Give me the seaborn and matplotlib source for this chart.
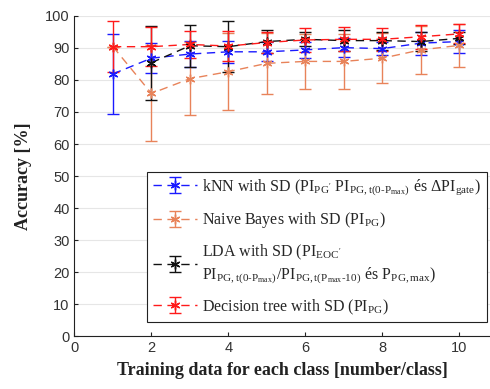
import numpy as np
import pandas as pd
import matplotlib
matplotlib.use("Agg")
import matplotlib.pyplot as plt
import seaborn as sns

x = [1, 2, 3, 4, 5, 6, 7, 8, 9, 10]
knn_mean = [81.9, 86.8, 88.1, 88.8, 88.8, 89.4, 90.1, 89.8, 91.5, 92.0]
knn_sd = [12.4, 4.6, 4.0, 3.5, 3.0, 2.5, 3.0, 2.0, 3.6, 3.5]
nb_mean = [90.4, 75.8, 80.4, 82.6, 85.2, 85.8, 85.8, 86.8, 89.4, 90.8]
nb_sd = [0.0, 15.0, 11.4, 12.0, 9.6, 8.6, 8.6, 7.8, 7.5, 6.6]
lda_mean = [np.nan, 85.4, 90.7, 90.4, 92.0, 92.7, 92.3, 92.3, 92.0, 93.0]
lda_sd = [np.nan, 11.6, 6.5, 8.0, 3.5, 2.2, 3.2, 2.8, 3.0, 1.9]
dt_mean = [90.4, 90.4, 91.1, 90.6, 91.7, 92.5, 92.7, 92.7, 93.5, 94.4]
dt_sd = [8.0, 6.0, 4.2, 4.7, 3.3, 3.7, 3.7, 3.5, 3.7, 3.0]

labels = [
    r"kNN with SD (PI$_{\mathregular{PG'}}$ PI$_{\mathregular{PG,t(0\text{-}P}_{\mathregular{max}}\mathregular{)}}$ és ΔPI$_{\mathregular{gate}}$)",
    r"Naive Bayes with SD (PI$_{\mathregular{PG}}$)",
    "LDA with SD (PI$_{\\mathregular{EOC'}}$\n"
    r"PI$_{\mathregular{PG,t(0\text{-}P}_{\mathregular{max}}\mathregular{)}}$/PI$_{\mathregular{PG,t(P}_{\mathregular{max}}\mathregular{\text{-}10)}}$ és P$_{\mathregular{PG,max}}$)",
    r"Decision tree with SD (PI$_{\mathregular{PG}}$)",
]
colors = ["#1a1aff", "#e8835a", "#111111", "#ff1a1a"]

sns.set_style("white")
plt.rcParams["mathtext.fontset"] = "stix"

fig = plt.figure(figsize=(4.9, 3.89), dpi=100)
ax = fig.add_axes([0.152, 0.136, 0.848, 0.823])

series = [(knn_mean, knn_sd), (nb_mean, nb_sd), (lda_mean, lda_sd), (dt_mean, dt_sd)]
for (m, s), c, lab in zip(series, colors, labels):
    df = pd.DataFrame({"x": x, "y": m})
    sns.lineplot(data=df, x="x", y="y", ax=ax, color=c, linestyle=(0, (6, 4)),
                 linewidth=1.0, legend=False)
    ax.errorbar(x, m, yerr=s, fmt="none", ecolor=c, elinewidth=1.0, capsize=4,
                capthick=1.0)

handles = []
for (m, s), c, lab in zip(series, colors, labels):
    h = ax.errorbar([np.nan], [np.nan], yerr=[1], color=c, linestyle=(0, (6, 4)),
                    linewidth=1.0, marker=(6, 2, 0), markersize=7, capsize=4,
                    label=lab)
    handles.append(h)

for (m, s), c in zip(series, colors):
    ax.plot(x, m, linestyle="none", marker=(6, 2, 0), markersize=7, color=c,
            markeredgewidth=1.0)

ax.set_xlim(0, 10.8)
ax.set_ylim(0, 100)
ax.set_xticks([0, 2, 4, 6, 8, 10])
ax.set_yticks(range(0, 101, 10))
ax.yaxis.grid(True, color="#e6e6e6", linewidth=0.8)
ax.set_axisbelow(True)
for sp in ["top", "right"]:
    ax.spines[sp].set_visible(False)
for sp in ["left", "bottom"]:
    ax.spines[sp].set_color("#222222")
    ax.spines[sp].set_linewidth(0.8)
ax.tick_params(axis="both", direction="in", length=3, labelsize=10.5,
               labelcolor="#333333", colors="#222222", left=True, bottom=True)
for t in ax.get_xticklabels() + ax.get_yticklabels():
    t.set_fontfamily("Liberation Sans")
ax.set_xlabel("Training data for each class [number/class]", fontsize=13,
              fontweight="bold", fontfamily="Liberation Serif", color="#222222",
              labelpad=5)
ax.set_ylabel("Accuracy [%]", fontsize=13, fontweight="bold",
              fontfamily="Liberation Serif", color="#222222", labelpad=9)

leg = ax.legend(handles=handles, labels=labels, loc="upper left",
                bbox_to_anchor=(147 / 490, 1 - 172 / 389),
                bbox_transform=fig.transFigure, borderaxespad=0, frameon=True,
                fancybox=False, edgecolor="#222222", framealpha=1, borderpad=0.35,
                handlelength=2.8, handletextpad=0.3, labelspacing=0.8,
                prop={"family": "Liberation Serif", "size": 11.5})
leg.get_frame().set_linewidth(0.8)

fig.savefig("out.png", dpi=100)
